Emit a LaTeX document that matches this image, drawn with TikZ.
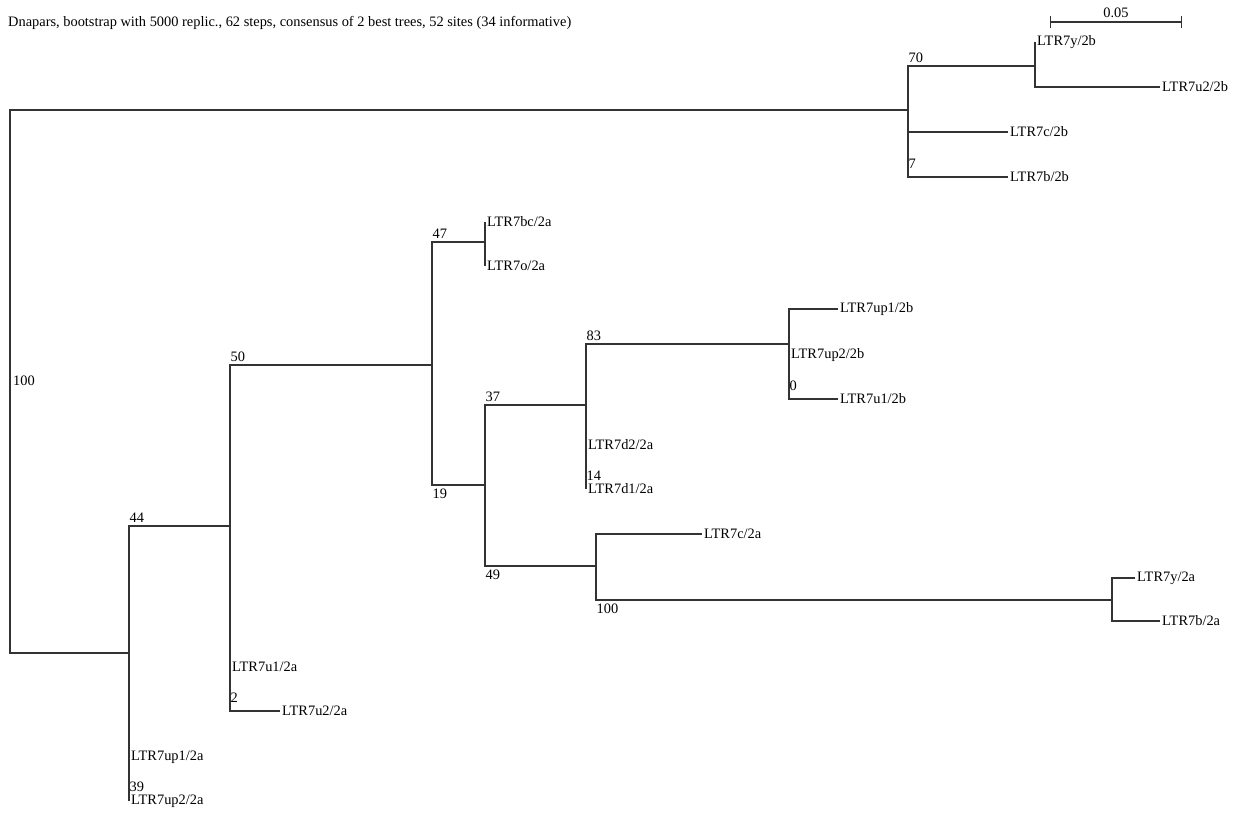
\documentclass[tikz,border=0pt]{standalone}
\usepackage{fontspec}
\setmainfont{Liberation Serif}
\usetikzlibrary{arrows.meta, positioning}

\begin{document}
\begin{tikzpicture}[
    x=1pt, y=-1pt,
    font=\fontsize{14.4}{17}\selectfont,
    branch/.style={draw=black!80, line width=1.1pt},
    leaf/.style={anchor=west, inner sep=2pt},
    boot/.style={anchor=south west, inner xsep=0.5pt, inner ysep=3pt},
    bootend/.style={anchor=south west, inner xsep=0.5pt, inner ysep=8pt},
    bootlow/.style={anchor=north west, inner xsep=0.5pt, inner ysep=3.5pt}
]
    \useasboundingbox (0,0) rectangle (1244,812);

    % Title and scale
    \node[anchor=west, inner sep=2pt] (title) at (6,23) {Dnapars, bootstrap with 5000 replic., 62 steps, consensus of 2 best trees, 52 sites (34 informative)};
    \coordinate (sbl) at (1050,22);
    \coordinate (sbr) at (1182,22);
    \draw[branch, {Bar[width=12pt]}-{Bar[width=12pt]}] (sbl) -- (sbr);
    \node[anchor=south, inner sep=2pt] (sblabel) at (1116,20) {0.05};

    % Inner nodes
    \coordinate (root) at (10,381);
    \coordinate (clade2b) at (908,110);
    \coordinate (yu2b) at (1035,66);
    \coordinate (clade2a) at (129,653);
    \coordinate (u2a) at (230,526);
    \coordinate (mid2a) at (432,365);
    \coordinate (bco2a) at (485,242);
    \coordinate (deep2a) at (485,485);
    \coordinate (d2a) at (586,405);
    \coordinate (up2b) at (789,344);
    \coordinate (cyb2a) at (596,566);
    \coordinate (yb2a) at (1112,600);

    % Leaves
    \node[leaf] (Ly2b) at (1035,42) {LTR7y/2b};
    \node[leaf] (Lu22b) at (1160,87) {LTR7u2/2b};
    \node[leaf] (Lc2b) at (1008,132) {LTR7c/2b};
    \node[leaf] (Lb2b) at (1008,177) {LTR7b/2b};
    \node[leaf] (Lbc2a) at (485,222) {LTR7bc/2a};
    \node[leaf] (Lo2a) at (485,266) {LTR7o/2a};
    \node[leaf] (Lup12b) at (838,309) {LTR7up1/2b};
    \node[leaf] (Lup22b) at (789,355) {LTR7up2/2b};
    \node[leaf] (Lu12b) at (838,399) {LTR7u1/2b};
    \node[leaf] (Ld22a) at (586,445) {LTR7d2/2a};
    \node[leaf] (Ld12a) at (586,489) {LTR7d1/2a};
    \node[leaf] (Lc2a) at (702,534) {LTR7c/2a};
    \node[leaf] (Ly2a) at (1135,578) {LTR7y/2a};
    \node[leaf] (Lb2a) at (1160,621) {LTR7b/2a};
    \node[leaf] (Lu12a) at (230,667) {LTR7u1/2a};
    \node[leaf] (Lu22a) at (280,711) {LTR7u2/2a};
    \node[leaf] (Lup12a) at (129,757) {LTR7up1/2a};
    \node[leaf] (Lup22a) at (129,801) {LTR7up2/2a};

    % Branches
    \draw[branch] (root) |- (clade2b);
    \draw[branch] (root) |- (clade2a);
    \draw[branch] (clade2b) |- (yu2b);
    \draw[branch] (yu2b) |- (Ly2b.west);
    \draw[branch] (yu2b) |- (Lu22b.west);
    \draw[branch] (clade2b) |- (Lc2b.west);
    \draw[branch] (clade2b) |- (Lb2b.west);
    \draw[branch] (clade2a) |- (u2a);
    \draw[branch] (clade2a) |- (Lup12a.west);
    \draw[branch] (clade2a) |- (Lup22a.west);
    \draw[branch] (u2a) |- (mid2a);
    \draw[branch] (u2a) |- (Lu12a.west);
    \draw[branch] (u2a) |- (Lu22a.west);
    \draw[branch] (mid2a) |- (bco2a);
    \draw[branch] (mid2a) |- (deep2a);
    \draw[branch] (bco2a) |- (Lbc2a.west);
    \draw[branch] (bco2a) |- (Lo2a.west);
    \draw[branch] (deep2a) |- (d2a);
    \draw[branch] (deep2a) |- (cyb2a);
    \draw[branch] (d2a) |- (up2b);
    \draw[branch] (d2a) |- (Ld22a.west);
    \draw[branch] (d2a) |- (Ld12a.west);
    \draw[branch] (up2b) |- (Lup12b.west);
    \draw[branch] (up2b) |- (Lup22b.west);
    \draw[branch] (up2b) |- (Lu12b.west);
    \draw[branch] (cyb2a) |- (Lc2a.west);
    \draw[branch] (cyb2a) |- (yb2a);
    \draw[branch] (yb2a) |- (Ly2a.west);
    \draw[branch] (yb2a) |- (Lb2a.west);

    % Bootstrap values
    \node[anchor=west, inner sep=1pt] (s100r) at (12,381) {100};
    \node[boot] (s70) at (908,66) {70};
    \node[bootend] (s7) at (908,177) {7};
    \node[boot] (s44) at (129,526) {44};
    \node[bootend] (s39) at (129,800) {39};
    \node[boot] (s50) at (230,365) {50};
    \node[bootend] (s2) at (230,711) {2};
    \node[boot] (s47) at (432,242) {47};
    \node[bootlow] (s19) at (432,485) {19};
    \node[boot] (s37) at (485,405) {37};
    \node[bootlow] (s49) at (485,566) {49};
    \node[boot] (s83) at (586,344) {83};
    \node[bootend] (s14) at (586,489) {14};
    \node[bootend] (s0) at (789,399) {0};
    \node[bootlow] (s100) at (596,600) {100};
\end{tikzpicture}
\end{document}
